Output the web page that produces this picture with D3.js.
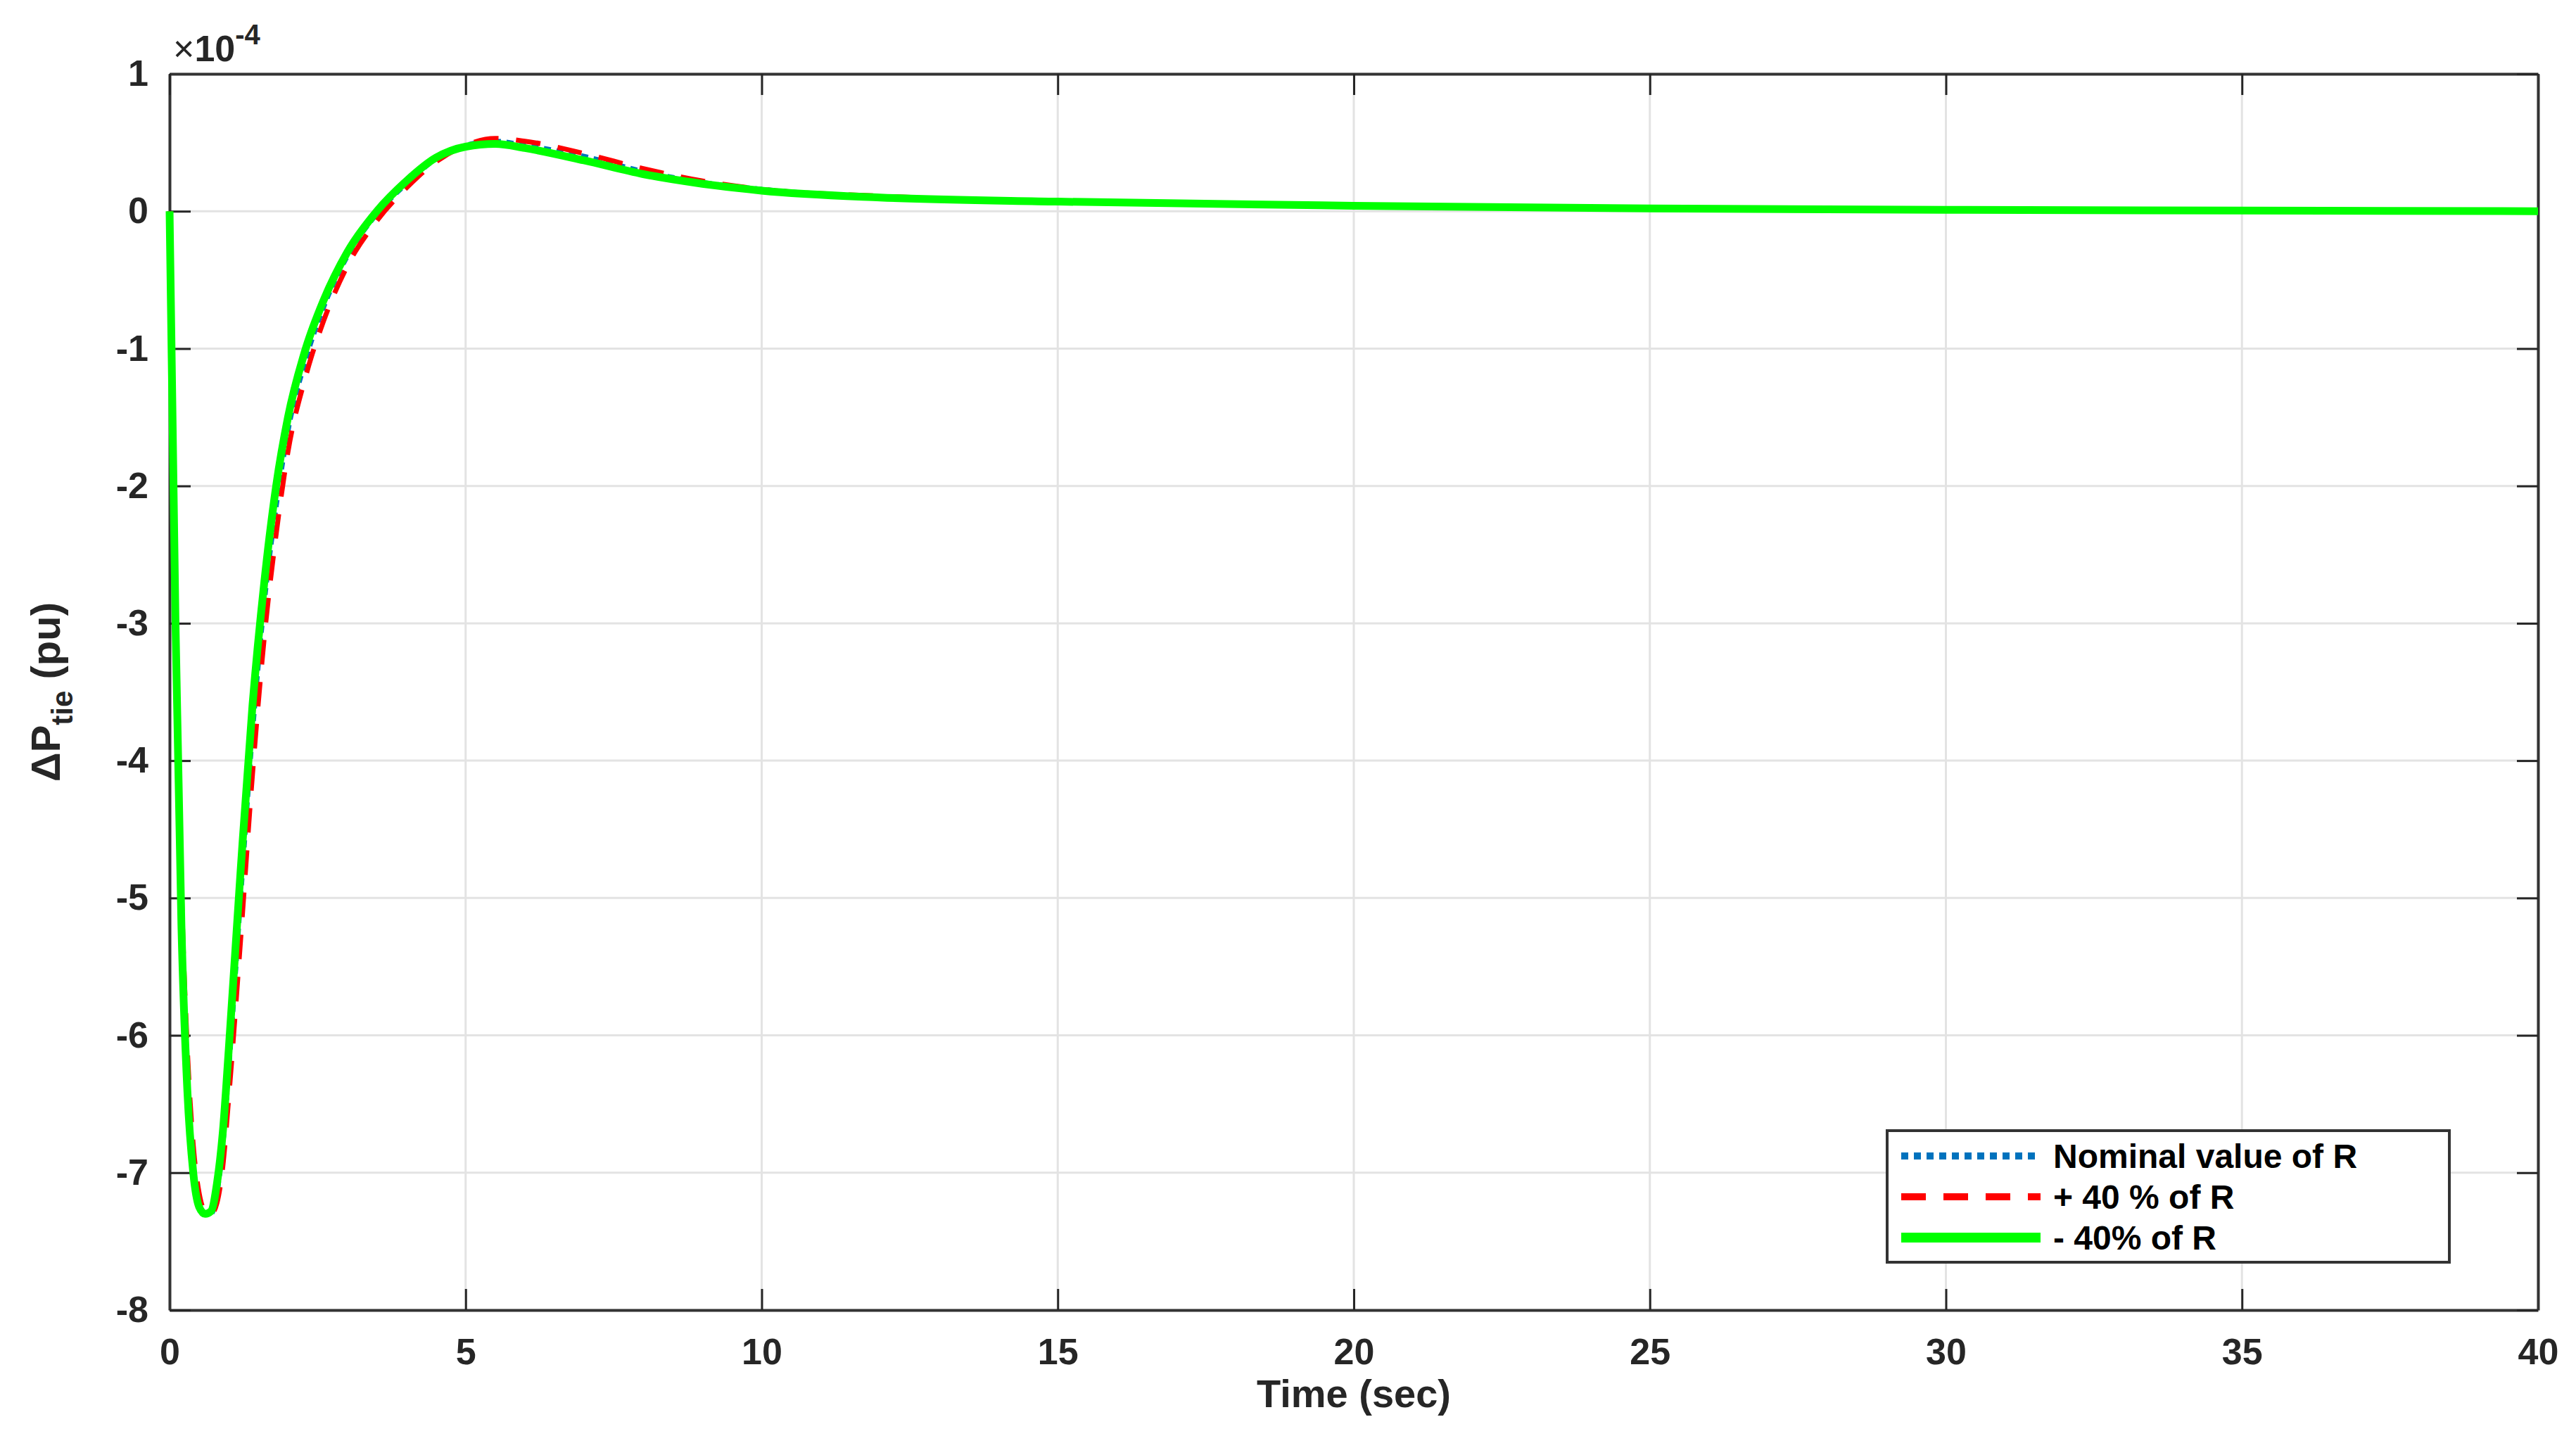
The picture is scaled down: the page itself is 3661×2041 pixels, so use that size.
<!DOCTYPE html>
<html><head><meta charset="utf-8">
<script src="https://cdn.jsdelivr.net/npm/d3@7"></script>
<style>body{margin:0;background:#fff}text{font-family:Arial,"Liberation Sans",sans-serif;font-weight:bold}</style>
</head><body>
<svg id="c" width="3661" height="2041"></svg>
<script>
const time = [0,0.1,0.2,0.3,0.4,0.5,0.6,0.7,0.8,0.9,1.0,1.2,1.4,1.6,1.8,2.0,2.3,2.6,3.0,3.5,4,4.5,5,5.5,6,7,8,9,10,12,15,20,25,30,35,40];
const nominal = [0,-2.9,-5.1,-6.3,-6.95,-7.22,-7.3,-7.3,-7.15,-6.8,-6.25,-5.0,-3.8,-2.85,-2.15,-1.6,-1.08,-0.7,-0.33,-0.02,0.2,0.38,0.48,0.51,0.48,0.4,0.29,0.21,0.16,0.1,0.07,0.04,0.02,0.01,0.005,0];
const plus40 = [0,-2.7,-4.9,-6.1,-6.8,-7.15,-7.28,-7.3,-7.22,-6.95,-6.45,-5.3,-4.1,-3.1,-2.35,-1.75,-1.2,-0.8,-0.4,-0.07,0.17,0.36,0.48,0.53,0.51,0.42,0.31,0.22,0.16,0.11,0.07,0.04,0.02,0.01,0.005,0];
const minus40 = [0,-3.0,-5.2,-6.4,-7.0,-7.25,-7.3,-7.28,-7.08,-6.7,-6.1,-4.8,-3.6,-2.7,-2.0,-1.5,-1.0,-0.65,-0.3,0.0,0.22,0.39,0.47,0.49,0.46,0.37,0.27,0.2,0.15,0.1,0.07,0.04,0.02,0.01,0.005,0];
const xTicks = [0,5,10,15,20,25,30,35,40];
const yTicks = [1,0,-1,-2,-3,-4,-5,-6,-7,-8];
const legendLabels = ["Nominal value of R","+ 40 % of R","- 40% of R"];

const svg = d3.select("#c");
const L=241,R=3607,T=105,B=1862;
const x=d3.scaleLinear().domain([0,40]).range([L,R]);
const y=d3.scaleLinear().domain([-8,1]).range([B,T]);
const g=svg.append("g");
g.selectAll(".gx").data(xTicks).join("line").attr("x1",d=>x(d)).attr("x2",d=>x(d)).attr("y1",T).attr("y2",B).attr("stroke","#e3e3e3").attr("stroke-width",3);
g.selectAll(".gy").data(yTicks).join("line").attr("y1",d=>y(d)).attr("y2",d=>y(d)).attr("x1",L).attr("x2",R).attr("stroke","#e3e3e3").attr("stroke-width",3);
const fmt=d=>String(d);
const ax=svg.append("g").attr("transform",`translate(0,${B})`).call(d3.axisBottom(x).tickValues(xTicks).tickFormat(fmt).tickSizeInner(-30).tickSizeOuter(0).tickPadding(40));
const ay=svg.append("g").attr("transform",`translate(${L},0)`).call(d3.axisLeft(y).tickValues(yTicks).tickFormat(fmt).tickSizeInner(-30).tickSizeOuter(0).tickPadding(30));
const ax2=svg.append("g").attr("transform",`translate(0,${T})`).call(d3.axisTop(x).tickValues(xTicks).tickSizeInner(-30).tickSizeOuter(0).tickFormat(""));
const ay2=svg.append("g").attr("transform",`translate(${R},0)`).call(d3.axisRight(y).tickValues(yTicks).tickSizeInner(-30).tickSizeOuter(0).tickFormat(""));
[ax,ay,ax2,ay2].forEach(a=>{a.select(".domain").attr("stroke","#333").attr("stroke-width",4);a.selectAll("line").attr("stroke","#262626").attr("stroke-width",3);a.selectAll("text").attr("font-size",52).attr("fill","#262626").attr("font-weight","bold").attr("font-family","Arial,Liberation Sans");});
svg.append("text").attr("x",L+5).attr("y",T-18).attr("font-size",52).attr("fill","#262626").html('<tspan font-weight="normal">×</tspan>10<tspan dy="-24" font-size="40">-4</tspan>');
svg.append("text").attr("x",(L+R)/2).attr("y",2000).attr("text-anchor","middle").attr("font-size",56).attr("fill","#262626").text("Time (sec)");
svg.append("text").attr("transform",`translate(85,${(T+B)/2}) rotate(-90)`).attr("text-anchor","middle").attr("font-size",58).attr("fill","#262626").html('ΔP<tspan dy="18" font-size="42">tie</tspan><tspan dy="-18"> (pu)</tspan>');
const line=d3.line().curve(d3.curveMonotoneX);
const series=[{v:nominal,c:"#0072bd",dash:"10,8",w:7},{v:plus40,c:"#ff0000",dash:"35,25",w:7},{v:minus40,c:"#00ff00",dash:null,w:11}];
svg.append("defs").append("clipPath").attr("id","cp").append("rect").attr("x",L-10).attr("y",T).attr("width",R-L+10).attr("height",B-T);
series.forEach(s=>{svg.append("path").attr("clip-path","url(#cp)").attr("d",line(time.map((t,i)=>[x(t),y(s.v[i])]))).attr("fill","none").attr("stroke",s.c).attr("stroke-width",s.w).attr("stroke-dasharray",s.dash);});
const lx=2682,ly=1607,lw=799,lh=187;
svg.append("rect").attr("x",lx).attr("y",ly).attr("width",lw).attr("height",lh).attr("fill","#fff").attr("stroke","#333").attr("stroke-width",4);
series.forEach((s,i)=>{const yy=ly+36+i*58;
 svg.append("line").attr("x1",lx+20).attr("x2",lx+218).attr("y1",yy).attr("y2",yy).attr("stroke",s.c).attr("stroke-width",s.w+3).attr("stroke-dasharray",s.dash);
 svg.append("text").attr("x",lx+236).attr("y",yy+17).attr("font-size",48).attr("fill","#000").text(legendLabels[i]);});
</script></body></html>
